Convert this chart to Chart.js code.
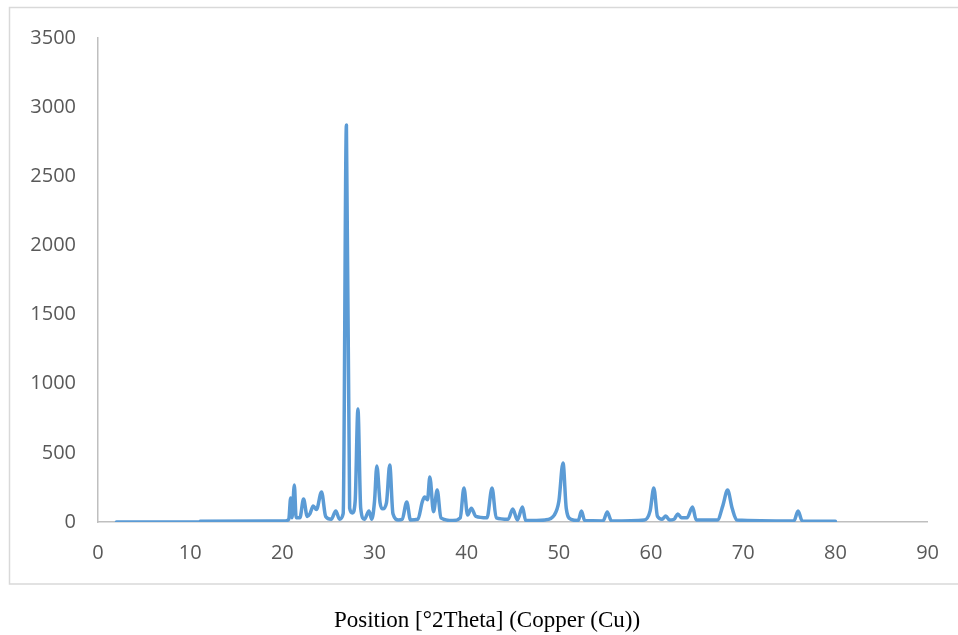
<!DOCTYPE html>
<html>
<head>
<meta charset="utf-8">
<script src="https://cdn.jsdelivr.net/npm/chart.js@4"></script>
<style>
  html, body { margin: 0; padding: 0; background: #fff; }
  #wrap { width: 958px; height: 635px; }
</style>
</head>
<body>
<div id="wrap"><canvas id="xrdChart" width="958" height="635"></canvas></div>
<script>
// 2θ positions and counts, read point by point along the pattern
const twoTheta = [
  2, 11, 11.1, 20.3, 20.7, 20.9, 21.05, 21.3, 21.5, 21.9,
  22.3, 22.7, 23.0, 23.35, 23.7, 24.25, 24.7, 25.3, 25.8, 26.2,
  26.6, 26.95, 27.3, 27.6, 27.9, 28.2, 28.5, 28.9, 29.4, 29.7,
  30.0, 30.25, 30.6, 30.9, 31.3, 31.65, 32.0, 32.6, 33.0, 33.5, 33.9,
  34.7, 35.2, 35.45, 35.75, 36.0, 36.4, 36.8, 37.2, 38.5, 39.3,
  39.7, 40.1, 40.5, 41.0, 42.2, 42.75, 43.2, 44.5, 45.0, 45.5,
  46.05, 46.4, 48.5, 49.5, 50.0, 50.45, 50.8, 51.3, 52.1, 52.45,
  52.8, 54.8, 55.25, 55.7, 59.3, 59.9, 60.3, 60.7, 61.2, 61.6,
  62.0, 62.5, 62.9, 63.3, 63.9, 64.5, 64.9, 67.2, 67.8, 68.3,
  68.8, 69.3, 75.5, 75.95, 76.4, 80
];
const counts = [
  0, 0, 6, 8, 20, 174, 30, 267, 30, 30,
  166, 40, 60, 116, 90, 217, 40, 20, 80, 20,
  60, 2870, 100, 65, 150, 817, 100, 20, 80, 20,
  150, 405, 140, 95, 140, 412, 60, 15, 20, 145, 15,
  20, 150, 180, 160, 325, 75, 231, 30, 10, 30,
  246, 50, 100, 40, 30, 246, 30, 20, 94, 15,
  108, 10, 15, 50, 150, 427, 100, 20, 10, 80,
  10, 8, 72, 8, 15, 80, 246, 40, 20, 43,
  15, 20, 58, 30, 30, 108, 15, 15, 120, 231,
  100, 15, 8, 80, 8, 5
];
const xTicks = [0, 10, 20, 30, 40, 50, 60, 70, 80, 90];
const yTicks = [0, 500, 1000, 1500, 2000, 2500, 3000, 3500];

const axisTitle = 'Position [°2Theta] (Copper (Cu))';

const points = twoTheta.map((x, i) => ({ x, y: counts[i] }));

// outer border + serif axis caption under it
const frameAndCaption = {
  id: 'frameAndCaption',
  afterDraw(chart) {
    const c = chart.ctx;
    c.save();
    c.strokeStyle = '#d9d9d9';
    c.lineWidth = 1.5;
    c.strokeRect(9.5, 7.5, 960, 576.5);
    c.fillStyle = '#000';
    c.font = '23px "Liberation Serif", "Times New Roman", serif';
    c.textAlign = 'center';
    c.textBaseline = 'alphabetic';
    c.fillText(axisTitle, 487, 627);
    c.restore();
  }
};

const tickFont = { family: '"Open Sans", "Noto Sans", sans-serif', size: 20 };

new Chart(document.getElementById('xrdChart'), {
  type: 'line',
  data: {
    datasets: [{
      data: points,
      borderColor: '#5b9bd5',
      borderWidth: 3.5,
      pointRadius: 0,
      fill: false,
      cubicInterpolationMode: 'monotone',
      borderJoinStyle: 'round',
      borderCapStyle: 'round'
    }]
  },
  options: {
    responsive: false,
    animation: false,
    layout: { padding: { top: 38, right: 30, bottom: 0, left: 0 } },
    plugins: { legend: { display: false }, tooltip: { enabled: false } },
    scales: {
      x: {
        type: 'linear',
        min: 0, max: 90,
        afterBuildTicks: s => { s.ticks = xTicks.map(v => ({ value: v })); },
        afterFit: s => { s.height = 113; },
        grid: { display: false, drawTicks: false },
        border: { display: true, color: '#bfbfbf', width: 1.5 },
        ticks: { color: '#595959', font: tickFont, padding: 19, maxRotation: 0, callback: v => String(v) }
      },
      y: {
        min: 0, max: 3500,
        afterBuildTicks: s => { s.ticks = yTicks.map(v => ({ value: v })); },
        afterFit: s => { s.width = 98; },
        grid: { display: false, drawTicks: false },
        border: { display: true, color: '#bfbfbf', width: 1.5 },
        ticks: { color: '#595959', font: tickFont, padding: 22, callback: v => String(v) }
      }
    }
  },
  plugins: [frameAndCaption]
});
</script>
</body>
</html>
